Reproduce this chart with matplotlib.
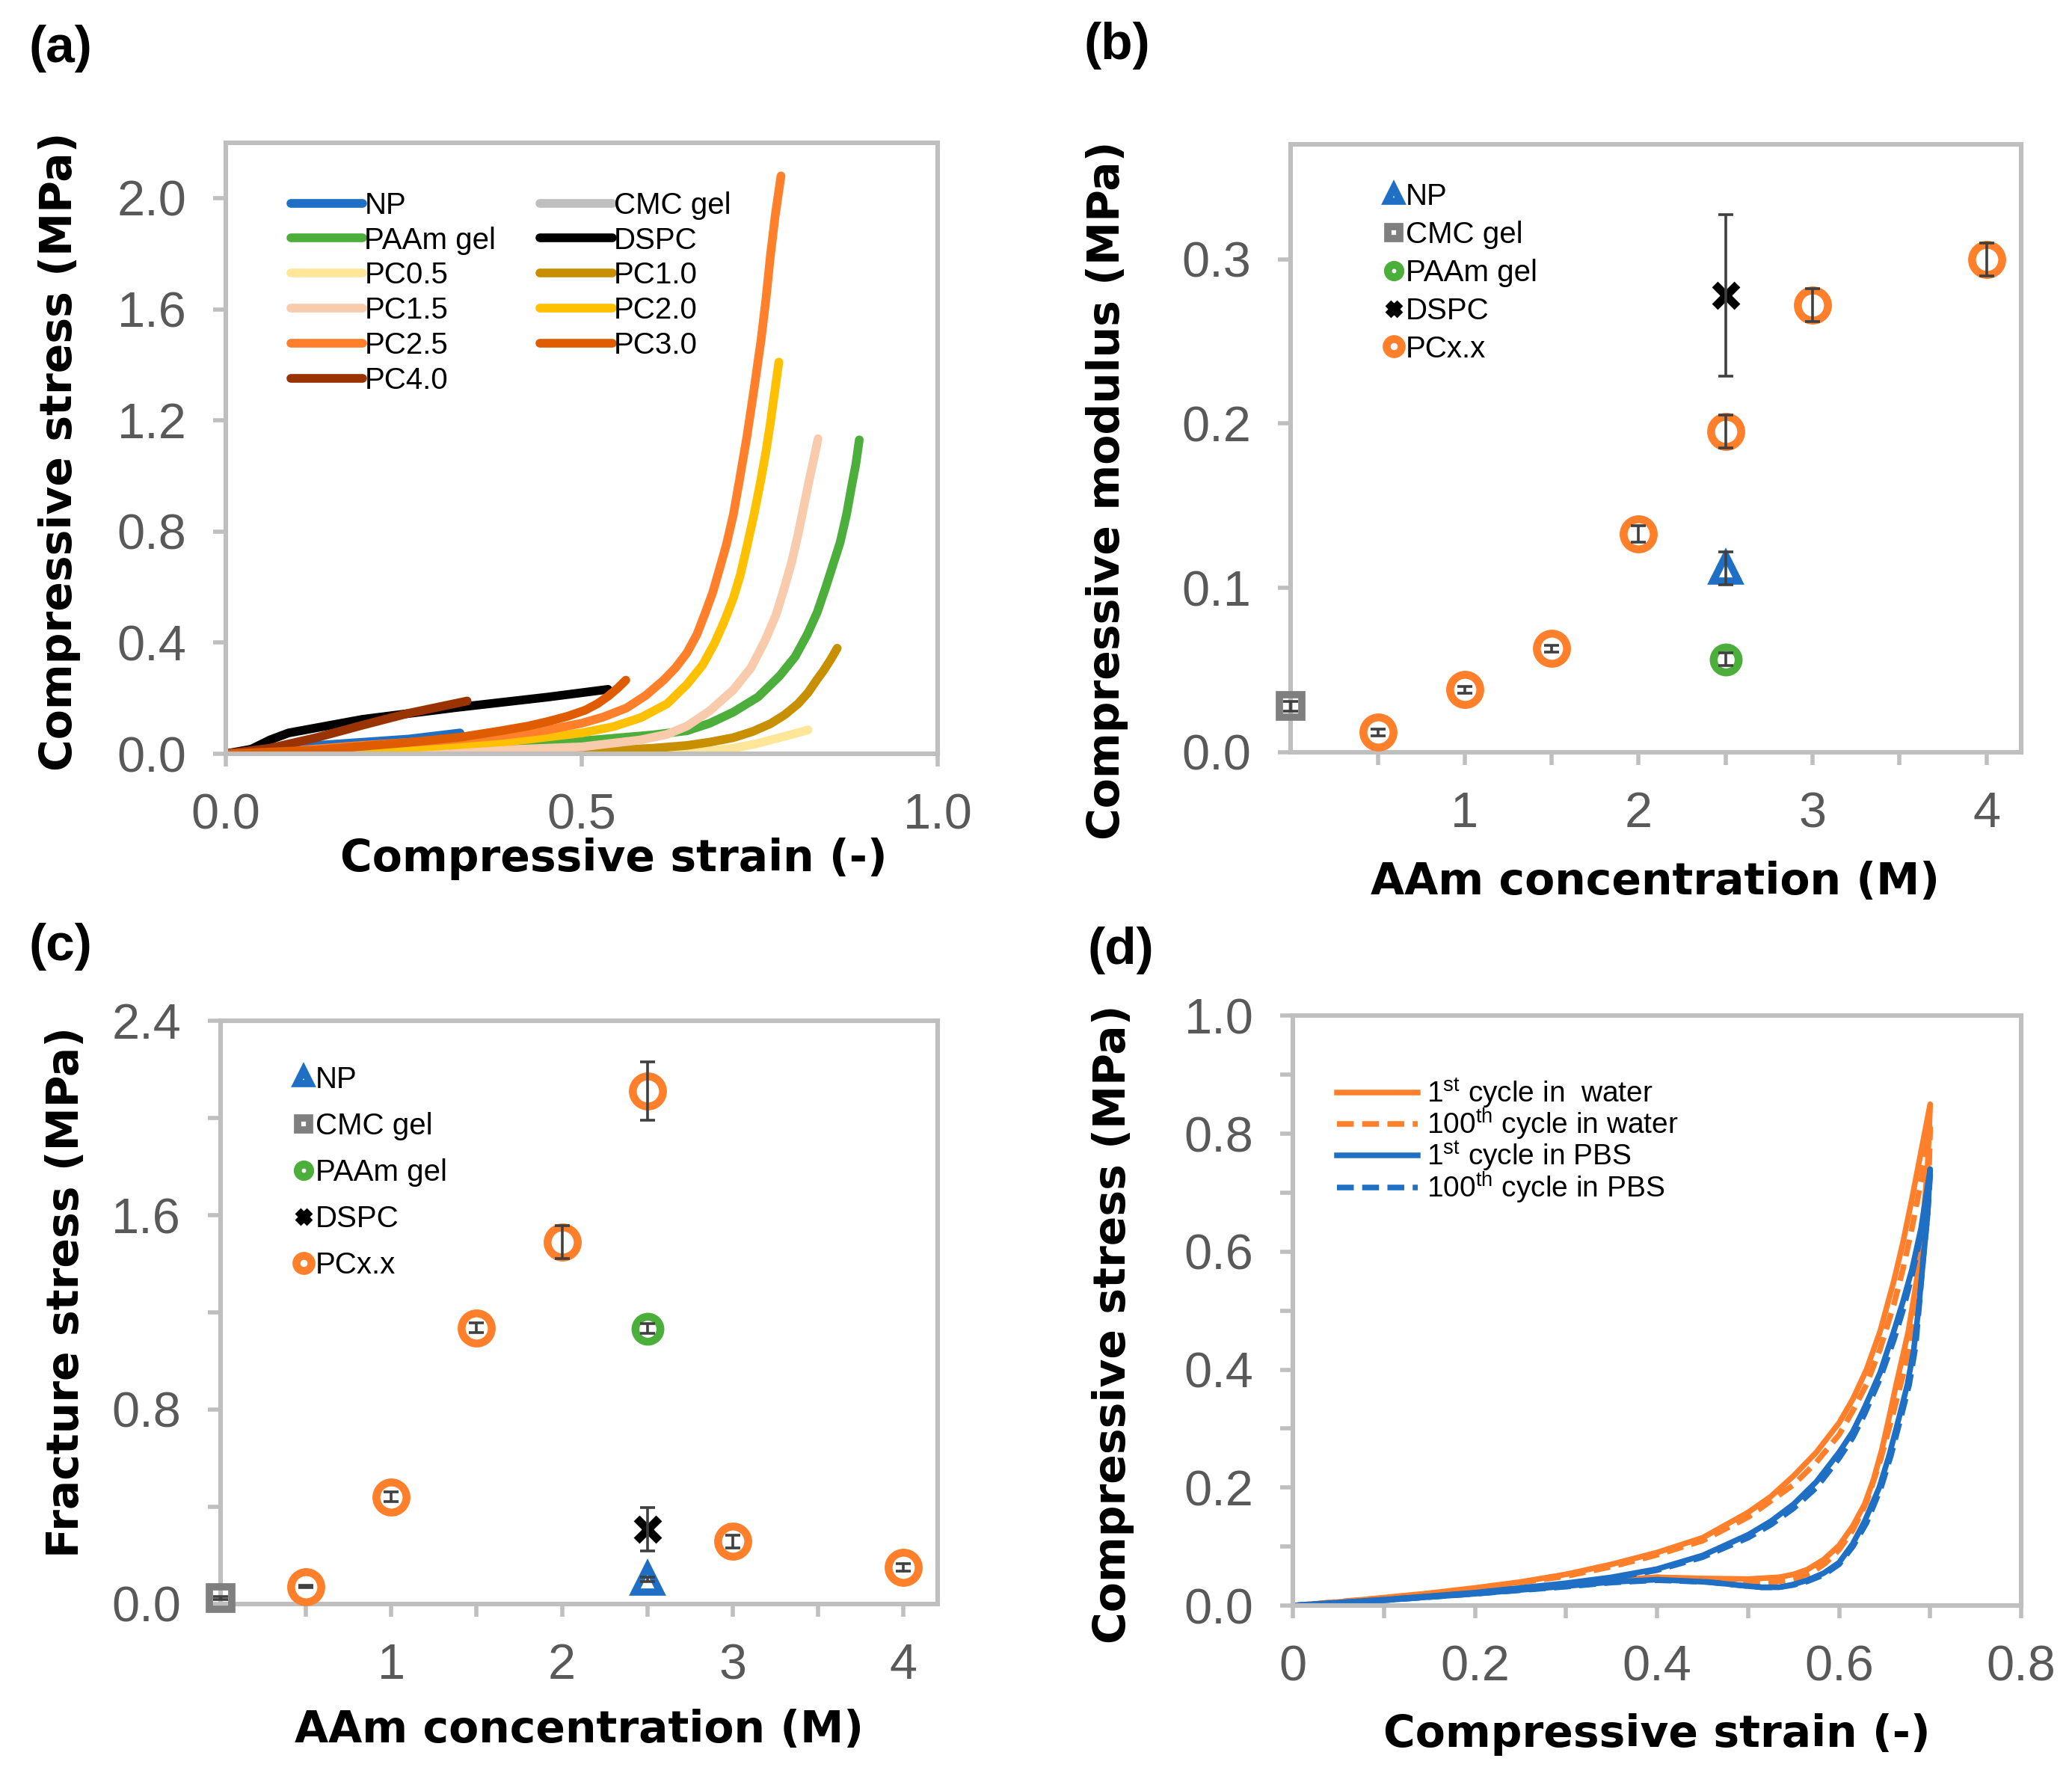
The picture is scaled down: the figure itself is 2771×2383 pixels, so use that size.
import matplotlib.pyplot as plt
import numpy as np

plt.rcParams['font.family'] = ['Liberation Sans', 'DejaVu Sans']
plt.rcParams['mathtext.fontset'] = 'custom'
plt.rcParams['mathtext.rm'] = 'Liberation Sans'
plt.rcParams['mathtext.it'] = 'Liberation Sans'

# ---------- (a) stress-strain curves ----------
a_names = ['CMC gel', 'NP', 'PC0.5', 'PC1.0', 'PAAm gel', 'PC1.5', 'PC2.0', 'PC2.5', 'DSPC', 'PC4.0', 'PC3.0']
a_colors = {'NP': '#1F6FC5', 'CMC gel': '#BFBFBF', 'PAAm gel': '#4CAF3C', 'DSPC': '#000000',
            'PC0.5': '#FFE699', 'PC1.0': '#C89000', 'PC1.5': '#F9CBAD', 'PC2.0': '#FFC000',
            'PC2.5': '#FF7F2A', 'PC3.0': '#E05C00', 'PC4.0': '#993300'}
a_x = {
    'CMC gel': [0, 0.1, 0.2, 0.3],
    'NP': [0, 0.127, 0.257, 0.329],
    'PC0.5': [0, 0.4, 0.55, 0.6, 0.648, 0.68, 0.713, 0.745, 0.778, 0.8, 0.818],
    'PC1.0': [0, 0.3, 0.5, 0.6, 0.648, 0.68, 0.713, 0.74, 0.765, 0.785, 0.804, 0.818, 0.83,
              0.84, 0.85, 0.859],
    'PAAm gel': [0, 0.2, 0.4, 0.5, 0.6, 0.648, 0.68, 0.713, 0.748, 0.778, 0.8, 0.817, 0.831,
                 0.843, 0.853, 0.863, 0.872, 0.879, 0.885, 0.89],
    'PC1.5': [0, 0.2, 0.4, 0.5, 0.583, 0.62, 0.648, 0.68, 0.713, 0.738, 0.758, 0.773, 0.785,
              0.795, 0.804, 0.812, 0.82, 0.826, 0.832],
    'PC2.0': [0, 0.2, 0.4, 0.5, 0.545, 0.583, 0.62, 0.648, 0.67, 0.687, 0.70, 0.713, 0.723,
              0.732, 0.742, 0.752, 0.759, 0.765, 0.771, 0.777],
    'PC2.5': [0, 0.1, 0.19, 0.3, 0.387, 0.45, 0.5, 0.53, 0.563, 0.59, 0.615, 0.632, 0.648,
              0.662, 0.674, 0.684, 0.693, 0.703, 0.713, 0.722, 0.732, 0.742, 0.752, 0.759,
              0.765, 0.772, 0.78],
    'DSPC': [0, 0.036, 0.062, 0.088, 0.192, 0.322, 0.452, 0.537],
    'PC4.0': [0, 0.062, 0.127, 0.192, 0.257, 0.339],
    'PC3.0': [0, 0.127, 0.257, 0.33, 0.387, 0.425, 0.452, 0.48, 0.505, 0.522, 0.537, 0.55, 0.562],
}
a_y = {
    'CMC gel': [0, 0.002, 0.004, 0.006],
    'NP': [0, 0.03, 0.053, 0.075],
    'PC0.5': [0, 0, 0.001, 0.003, 0.005, 0.011, 0.02, 0.036, 0.058, 0.073, 0.086],
    'PC1.0': [0, 0.003, 0.008, 0.02, 0.03, 0.042, 0.058, 0.08, 0.108, 0.14, 0.18, 0.22, 0.265,
              0.3, 0.34, 0.38],
    'PAAm gel': [0, 0.015, 0.035, 0.046, 0.068, 0.083, 0.11, 0.15, 0.205, 0.28, 0.35, 0.43, 0.51,
                 0.6, 0.68, 0.76, 0.86, 0.96, 1.04, 1.13],
    'PC1.5': [0, 0.005, 0.015, 0.025, 0.05, 0.07, 0.1, 0.155, 0.23, 0.31, 0.41, 0.5, 0.6,
              0.69, 0.79, 0.89, 0.99, 1.06, 1.134],
    'PC2.0': [0, 0.012, 0.045, 0.075, 0.098, 0.13, 0.18, 0.25, 0.32, 0.40, 0.475, 0.56, 0.645,
              0.745, 0.86, 0.99, 1.09, 1.19, 1.3, 1.41],
    'PC2.5': [0, 0.012, 0.03, 0.048, 0.066, 0.085, 0.11, 0.132, 0.165, 0.21, 0.265, 0.31, 0.364,
              0.43, 0.51, 0.58, 0.66, 0.75, 0.86, 0.99, 1.14, 1.31, 1.49, 1.64,
              1.79, 1.94, 2.08],
    'DSPC': [0, 0.017, 0.05, 0.075, 0.124, 0.166, 0.204, 0.232],
    'PC4.0': [0, 0.02, 0.058, 0.103, 0.146, 0.19],
    'PC3.0': [0, 0.013, 0.041, 0.06, 0.083, 0.1, 0.116, 0.135, 0.157, 0.18, 0.207, 0.235, 0.265],
}
a_legend_order = ['NP', 'PAAm gel', 'PC0.5', 'PC1.5', 'PC2.5', 'PC4.0',
                  'CMC gel', 'DSPC', 'PC1.0', 'PC2.0', 'PC3.0']

# ---------- (b) modulus, (c) fracture stress ----------
conc_pc = [0.5, 1, 1.5, 2, 2.5, 3, 4]
mod_pc = [0.012, 0.038, 0.063, 0.133, 0.195, 0.272, 0.300]
mod_pc_err = [0.002, 0.002, 0.002, 0.005, 0.01, 0.01, 0.01]
mod_other = {'NP': (2.5, 0.112, 0.01), 'CMC gel': (0, 0.028, 0.003),
             'PAAm gel': (2.5, 0.0565, 0.004), 'DSPC': (2.5, 0.278, 0.049)}

frac_pc = [0.071, 0.441, 1.137, 1.491, 2.112, 0.257, 0.151]
frac_pc_err = [0.005, 0.02, 0.02, 0.068, 0.12, 0.026, 0.015]
frac_other = {'NP': (2.5, 0.1, 0.01), 'CMC gel': (0, 0.024, 0.005),
              'PAAm gel': (2.5, 1.133, 0.02), 'DSPC': (2.5, 0.307, 0.088)}

# ---------- (d) cyclic loading (loading then unloading) ----------
w1_x = [0, 0.05, 0.1, 0.15, 0.2, 0.25, 0.3, 0.35, 0.4, 0.45, 0.5, 0.525, 0.55, 0.575, 0.6, 0.615,
        0.63, 0.645, 0.66, 0.67, 0.68, 0.69, 0.7,
        0.697, 0.692, 0.686, 0.676, 0.663, 0.655, 0.647, 0.638, 0.628, 0.615, 0.6, 0.583, 0.565,
        0.55, 0.534, 0.5, 0.45, 0.4, 0.35, 0.3, 0.25, 0.2, 0.15, 0.1, 0.05, 0]
w1_y = [0, 0.006, 0.0135, 0.021, 0.03, 0.04, 0.053, 0.07, 0.09, 0.115, 0.158, 0.185, 0.22, 0.26,
        0.31, 0.35, 0.4, 0.465, 0.55, 0.615, 0.69, 0.77, 0.85,
        0.74, 0.65, 0.56, 0.465, 0.377, 0.32, 0.265, 0.215, 0.172, 0.135, 0.102, 0.078, 0.061,
        0.053, 0.048, 0.045, 0.046, 0.048, 0.043, 0.036, 0.029, 0.022, 0.016, 0.01, 0.004, 0]
w100_x = [0, 0.1, 0.2, 0.3, 0.35, 0.4, 0.45, 0.5, 0.55, 0.575, 0.6, 0.615, 0.63, 0.645, 0.66,
          0.67, 0.68, 0.69, 0.7,
          0.698, 0.694, 0.688, 0.68, 0.67, 0.66, 0.645, 0.63, 0.615, 0.6, 0.585, 0.57, 0.55,
          0.525, 0.5, 0.45, 0.4, 0.35, 0.3, 0.2, 0.1, 0]
w100_y = [0, 0.013, 0.028, 0.05, 0.066, 0.086, 0.11, 0.15, 0.205, 0.243, 0.29, 0.33, 0.375,
          0.435, 0.51, 0.57, 0.64, 0.72, 0.81,
          0.7, 0.62, 0.54, 0.46, 0.39, 0.33, 0.245, 0.175, 0.128, 0.095, 0.072, 0.056, 0.045,
          0.039, 0.038, 0.044, 0.048, 0.042, 0.035, 0.022, 0.01, 0]
p1_x = [0, 0.1, 0.2, 0.3, 0.35, 0.4, 0.45, 0.5, 0.525, 0.55, 0.575, 0.6, 0.615, 0.628, 0.645,
        0.66, 0.67, 0.68, 0.69, 0.7,
        0.697, 0.692, 0.687, 0.682, 0.675, 0.666, 0.655, 0.644, 0.628, 0.615, 0.6, 0.583, 0.565,
        0.55, 0.534, 0.515, 0.5, 0.455, 0.4, 0.35, 0.3, 0.2, 0.1, 0]
p1_y = [0, 0.01, 0.022, 0.038, 0.048, 0.062, 0.085, 0.12, 0.143, 0.172, 0.21, 0.26, 0.295, 0.336,
        0.395, 0.465, 0.515, 0.57, 0.64, 0.74,
        0.66, 0.58, 0.5, 0.435, 0.375, 0.32, 0.255, 0.2, 0.143, 0.105, 0.073, 0.055, 0.043,
        0.036, 0.031, 0.031, 0.033, 0.04, 0.044, 0.04, 0.033, 0.02, 0.009, 0]
p100_x = [0, 0.1, 0.2, 0.3, 0.35, 0.4, 0.45, 0.5, 0.525, 0.55, 0.575, 0.6, 0.615, 0.628, 0.645,
          0.66, 0.67, 0.68, 0.69, 0.7,
          0.697, 0.693, 0.688, 0.684, 0.677, 0.668, 0.657, 0.646, 0.63, 0.615, 0.6, 0.583, 0.565,
          0.55, 0.534, 0.515, 0.5, 0.455, 0.4, 0.35, 0.3, 0.2, 0.1, 0]
p100_y = [0, 0.01, 0.021, 0.036, 0.046, 0.06, 0.082, 0.115, 0.137, 0.165, 0.2, 0.25, 0.285, 0.325,
          0.385, 0.45, 0.5, 0.56, 0.63, 0.73,
          0.66, 0.6, 0.51, 0.44, 0.375, 0.32, 0.255, 0.2, 0.14, 0.1, 0.07, 0.052, 0.041,
          0.035, 0.031, 0.031, 0.033, 0.04, 0.043, 0.039, 0.032, 0.02, 0.009, 0]

ORANGE = '#FF7F2A'
BLUE = '#1F6FC5'
SPINE = '#BFBFBF'
TICKLAB = '#595959'

fig = plt.figure(figsize=(13.855, 11.915), dpi=200)
axA = fig.add_axes([0.109, 0.577, 0.3435, 0.343])
axB = fig.add_axes([0.623, 0.578, 0.3525, 0.341])
axC = fig.add_axes([0.1064, 0.100, 0.3462, 0.327])
axD = fig.add_axes([0.624, 0.099, 0.3515, 0.331])


def style(ax):
    for s in ax.spines.values():
        s.set_color(SPINE)
        s.set_linewidth(2.2)
    ax.tick_params(which='both', direction='out', color=SPINE, width=2, length=6,
                   labelsize=24, labelcolor=TICKLAB, pad=13)


label_kw = dict(fontsize=21, fontweight='bold', family='DejaVu Sans', color='black')

# (a)
lines = {}
for n in a_names:
    ln, = axA.plot(a_x[n], a_y[n], color=a_colors[n], lw=4.2, solid_capstyle='round',
                   solid_joinstyle='round')
    lines[n] = ln
axA.set_xlim(0, 1.0)
axA.set_ylim(0, 2.2)
axA.set_xticks([0, 0.5, 1.0])
axA.set_xticklabels(['0.0', '0.5', '1.0'])
axA.set_yticks(np.arange(0, 2.01, 0.4))
axA.set_yticklabels(['%.1f' % v for v in np.arange(0, 2.01, 0.4)])
style(axA)
axA.set_xlabel('Compressive strain (-)', **label_kw)
axA.set_ylabel('Compressive stress (MPa)', **label_kw)
axA.xaxis.set_label_coords(0.545, -0.137)
axA.yaxis.set_label_coords(-0.204, 0.495)
axA.legend([lines[n] for n in a_legend_order], a_legend_order, ncol=2, frameon=False,
           loc='upper left', bbox_to_anchor=(0.07, 0.945), fontsize=14.5, handlelength=2.4,
           handletextpad=0.05, columnspacing=1.45, labelspacing=0.22, borderpad=0)


def scatter_panel(ax, conc, vals, errs, other):
    specs = {'NP': dict(marker='^', color=BLUE, ms=12.5, mew=3.5),
             'CMC gel': dict(marker='s', color='#7F7F7F', ms=11, mew=3.5),
             'PAAm gel': dict(marker='o', color='#4CAF3C', ms=12, mew=3.8),
             'DSPC': dict(marker='x', color='black', ms=11, mew=4)}
    handles = []
    for n in ['NP', 'CMC gel', 'PAAm gel', 'DSPC']:
        x, y, e = other[n]
        sp = specs[n]
        h, = ax.plot([x], [y], ls='none', marker=sp['marker'], ms=sp['ms'], mew=sp['mew'],
                     mec=sp['color'], mfc='none', color=sp['color'], clip_on=False, zorder=3)
        ax.errorbar([x], [y], yerr=[e], fmt='none', ecolor='#404040', elinewidth=1.3,
                    capsize=3.5, capthick=1.3, zorder=4, clip_on=False)
        handles.append(h)
    h, = ax.plot(conc, vals, ls='none', marker='o', ms=14.5, mew=3.8, mec=ORANGE, mfc='none',
                 clip_on=False, zorder=3)
    ax.errorbar(conc, vals, yerr=errs, fmt='none', ecolor='#404040', elinewidth=1.3,
                capsize=3.5, capthick=1.3, zorder=4)
    handles.append(h)
    ax.set_xlim(0, 4.2)
    ax.set_xticks([1, 2, 3, 4])
    ax.set_xticks([0.5, 1.5, 2.5, 3.5], minor=True)
    style(ax)
    ax.set_xlabel('AAm concentration (M)', **label_kw)
    return handles


# (b)
hb = scatter_panel(axB, conc_pc, mod_pc, mod_pc_err, mod_other)
axB.set_ylim(0, 0.37)
axB.set_yticks([0, 0.1, 0.2, 0.3])
axB.set_yticklabels(['0.0', '0.1', '0.2', '0.3'])
axB.set_ylabel('Compressive modulus (MPa)', **label_kw)
axB.xaxis.set_label_coords(0.499, -0.179)
axB.yaxis.set_label_coords(-0.222, 0.43)
axB.legend(hb, ['NP', 'CMC gel', 'PAAm gel', 'DSPC', 'PCx.x'], frameon=False, loc='upper left',
           bbox_to_anchor=(0.108, 0.962), fontsize=14.5, markerscale=0.5, handlelength=0.6,
           handletextpad=0.1, labelspacing=0.32, borderpad=0)

# (c)
hc = scatter_panel(axC, conc_pc, frac_pc, frac_pc_err, frac_other)
axC.set_ylim(0, 2.4)
axC.set_yticks([0, 0.8, 1.6, 2.4])
axC.set_yticklabels(['0.0', '0.8', '1.6', '2.4'])
axC.set_yticks([0.4, 1.2, 2.0], minor=True)
axC.set_ylabel('Fracture stress (MPa)', **label_kw)
axC.xaxis.set_label_coords(0.5, -0.18)
axC.yaxis.set_label_coords(-0.185, 0.535)
axC.legend(hc, ['NP', 'CMC gel', 'PAAm gel', 'DSPC', 'PCx.x'], frameon=False, loc='upper left',
           bbox_to_anchor=(0.082, 0.95), fontsize=14.5, markerscale=0.5, handlelength=0.6,
           handletextpad=0.1, labelspacing=0.6, borderpad=0)

# (d)
axD.plot(w1_x, w1_y, color=ORANGE, lw=2.7, label='1$^{\\mathrm{st}}$ cycle in  water')
axD.plot(w100_x, w100_y, color=ORANGE, lw=2.7, dashes=(3, 1.5), label='100$^{\\mathrm{th}}$ cycle in water')
axD.plot(p1_x, p1_y, color=BLUE, lw=2.7, label='1$^{\\mathrm{st}}$ cycle in PBS')
axD.plot(p100_x, p100_y, color=BLUE, lw=2.7, dashes=(3, 1.5), label='100$^{\\mathrm{th}}$ cycle in PBS')
axD.set_xlim(0, 0.8)
axD.set_ylim(0, 1.0)
axD.set_xticks([0, 0.2, 0.4, 0.6, 0.8])
axD.set_xticklabels(['0', '0.2', '0.4', '0.6', '0.8'])
axD.set_xticks([0.1, 0.3, 0.5, 0.7], minor=True)
axD.set_yticks(np.arange(0, 1.01, 0.2))
axD.set_yticklabels(['%.1f' % v for v in np.arange(0, 1.01, 0.2)])
axD.set_yticks([0.1, 0.3, 0.5, 0.7, 0.9], minor=True)
style(axD)
axD.set_xlabel('Compressive strain (-)', **label_kw)
axD.set_ylabel('Compressive stress (MPa)', **label_kw)
axD.xaxis.set_label_coords(0.5, -0.183)
axD.yaxis.set_label_coords(-0.218, 0.477)
axD.legend(frameon=False, loc='upper left', bbox_to_anchor=(0.04, 0.922), fontsize=14,
           handlelength=2.8, handletextpad=0.3, labelspacing=-0.1, borderpad=0)

for lab, x, y in [('(a)', 0.014, 0.986), ('(b)', 0.523, 0.988), ('(c)', 0.014, 0.482), ('(d)', 0.525, 0.480)]:
    fig.text(x, y, lab, fontsize=25, fontweight='bold', va='top', ha='left')

fig.savefig('out.png', dpi=200)
